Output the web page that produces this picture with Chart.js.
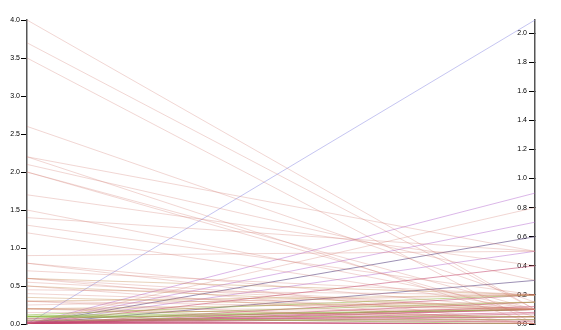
<!DOCTYPE html>
<html>
<head>
<meta charset="utf-8">
<script src="https://cdn.jsdelivr.net/npm/chart.js@4.4.1/dist/chart.umd.min.js"></script>
<style>
  html, body { margin: 0; padding: 0; background: #fff; }
  #wrap { width: 561px; height: 330px; }
</style>
</head>
<body>
<div id="wrap"><canvas id="chart" width="561" height="330"></canvas></div>
<script>
// two axes of the parallel plot
const axisNames = ["left", "right"];
const leftTicks = [0, 0.5, 1, 1.5, 2, 2.5, 3, 3.5, 4];
const rightTicks = [0, 0.2, 0.4, 0.6, 0.8, 1, 1.2, 1.4, 1.6, 1.8, 2];
const leftMax = 4.0;
const rightMax = 2.09;

// one entry per polyline
const leftVals = [
  4.0, 3.7, 3.5, 2.6, 2.2, 2.2, 2.1, 2.0, 2.0, 1.7, 1.5, 1.4, 1.3, 1.2, 0.9, 0.8, 0.8, 0.7, 0.6, 0.6,
  0.55, 0.5, 0.45, 0.4, 0.3, 0.3, 0.25, 0.2, 0.2, 0.15, 0.0,
  0.2, 0.2, 0.3, 0.35, 0.5, 0.6,
  0.1, 0.1, 0.1, 0.12, 0.08, 0.05, 0.1,
  0.0, 0.0, 0.0, 0.02, 0.05, 0.0, 0.03, 0.0, 0.07, 0.0, 0.0,
  0.0, 0.01, 0.04, 0.0, 0.02,
  0.0, 0.0, 0.0,
  0.0, 0.0,
  0.0
];
const rightVals = [
  0.1, 0.1, 0.0, 0.15, 0.5, 0.0, 0.3, 0.05, 0.1, 0.4, 0.1, 0.5, 0.2, 0.1, 0.5, 0.1, 0.0, 0.2, 0.1, 0.0,
  0.1, 0.0, 0.2, 0.1, 0.0, 0.1, 0.2, 0.0, 0.1, 0.1, 0.8,
  0.05, 0.15, 0.2, 0.1, 0.1, 0.2,
  0.1, 0.05, 0.0, 0.2, 0.1, 0.03, 0.15,
  0.0, 0.1, 0.2, 0.1, 0.05, 0.15, 0.0, 0.05, 0.1, 0.4, 0.12,
  0.02, 0.08, 0.03, 0.07, 0.0,
  0.9, 0.7, 0.5,
  0.6, 0.3,
  2.09
];
const groups = [
  0, 0, 0, 0, 0, 0, 0, 0, 0, 0, 0, 0, 0, 0, 0, 0, 0, 0, 0, 0,
  0, 0, 0, 0, 0, 0, 0, 0, 0, 0, 0,
  1, 1, 1, 1, 1, 1,
  2, 2, 2, 2, 2, 2, 2,
  3, 3, 3, 3, 3, 3, 3, 3, 3, 3, 3,
  3, 3, 3, 3, 3,
  4, 4, 4,
  5, 5,
  6
];

const groupColors = [
  "rgba(210,120,110,0.3)",
  "rgba(195,140,80,0.4)",
  "rgba(145,185,70,0.55)",
  "rgba(195,70,110,0.55)",
  "rgba(175,95,205,0.45)",
  "rgba(90,70,130,0.6)",
  "rgba(150,150,230,0.55)"
];

const datasets = leftVals.map((l, i) => ({
  label: "line " + (i + 1),
  data: [
    { x: 0, y: l },
    // right value placed on the left scale (both axes start at 0, same height)
    { x: 1, y: rightVals[i] * leftMax / rightMax }
  ],
  borderColor: groupColors[groups[i]],
  borderWidth: 1,
  pointRadius: 0,
  fill: false,
  yAxisID: "yL"
}));

// dummy dataset so the right axis is created
datasets.push({ label: "", data: [], yAxisID: "yR", pointRadius: 0, borderWidth: 0 });

const fuente = { family: "'Liberation Sans', Arial, sans-serif", size: 7 };

new Chart(document.getElementById("chart"), {
  type: "line",
  data: { datasets: datasets },
  options: {
    responsive: false,
    animation: false,
    devicePixelRatio: 1,
    layout: { padding: { top: 20, bottom: 6, left: 0, right: 0 } },
    plugins: { legend: { display: false }, tooltip: { enabled: false } },
    scales: {
      x: { type: "linear", min: 0, max: 1, display: false },
      yL: {
        type: "linear",
        position: "left",
        min: 0,
        max: leftMax,
        afterBuildTicks: s => { s.ticks = leftTicks.map(v => ({ value: v })); },
        afterFit: s => { s.width = 27; },
        ticks: { font: fuente, color: "#000", padding: 1, callback: v => v.toFixed(1) },
        grid: { drawOnChartArea: false, drawTicks: true, tickLength: 6, color: "#000", lineWidth: 1 },
        border: { display: true, color: "#555", width: 1.5 }
      },
      yR: {
        type: "linear",
        position: "right",
        min: 0,
        max: rightMax,
        afterBuildTicks: s => { s.ticks = rightTicks.map(v => ({ value: v })); },
        afterFit: s => { s.width = 26; },
        ticks: { font: fuente, color: "#000", mirror: true, padding: -8, callback: v => v.toFixed(1) },
        grid: { drawOnChartArea: false, drawTicks: true, tickLength: -6, color: "#000", lineWidth: 1 },
        border: { display: true, color: "#555", width: 1.5 }
      }
    }
  }
});
</script>
</body>
</html>
